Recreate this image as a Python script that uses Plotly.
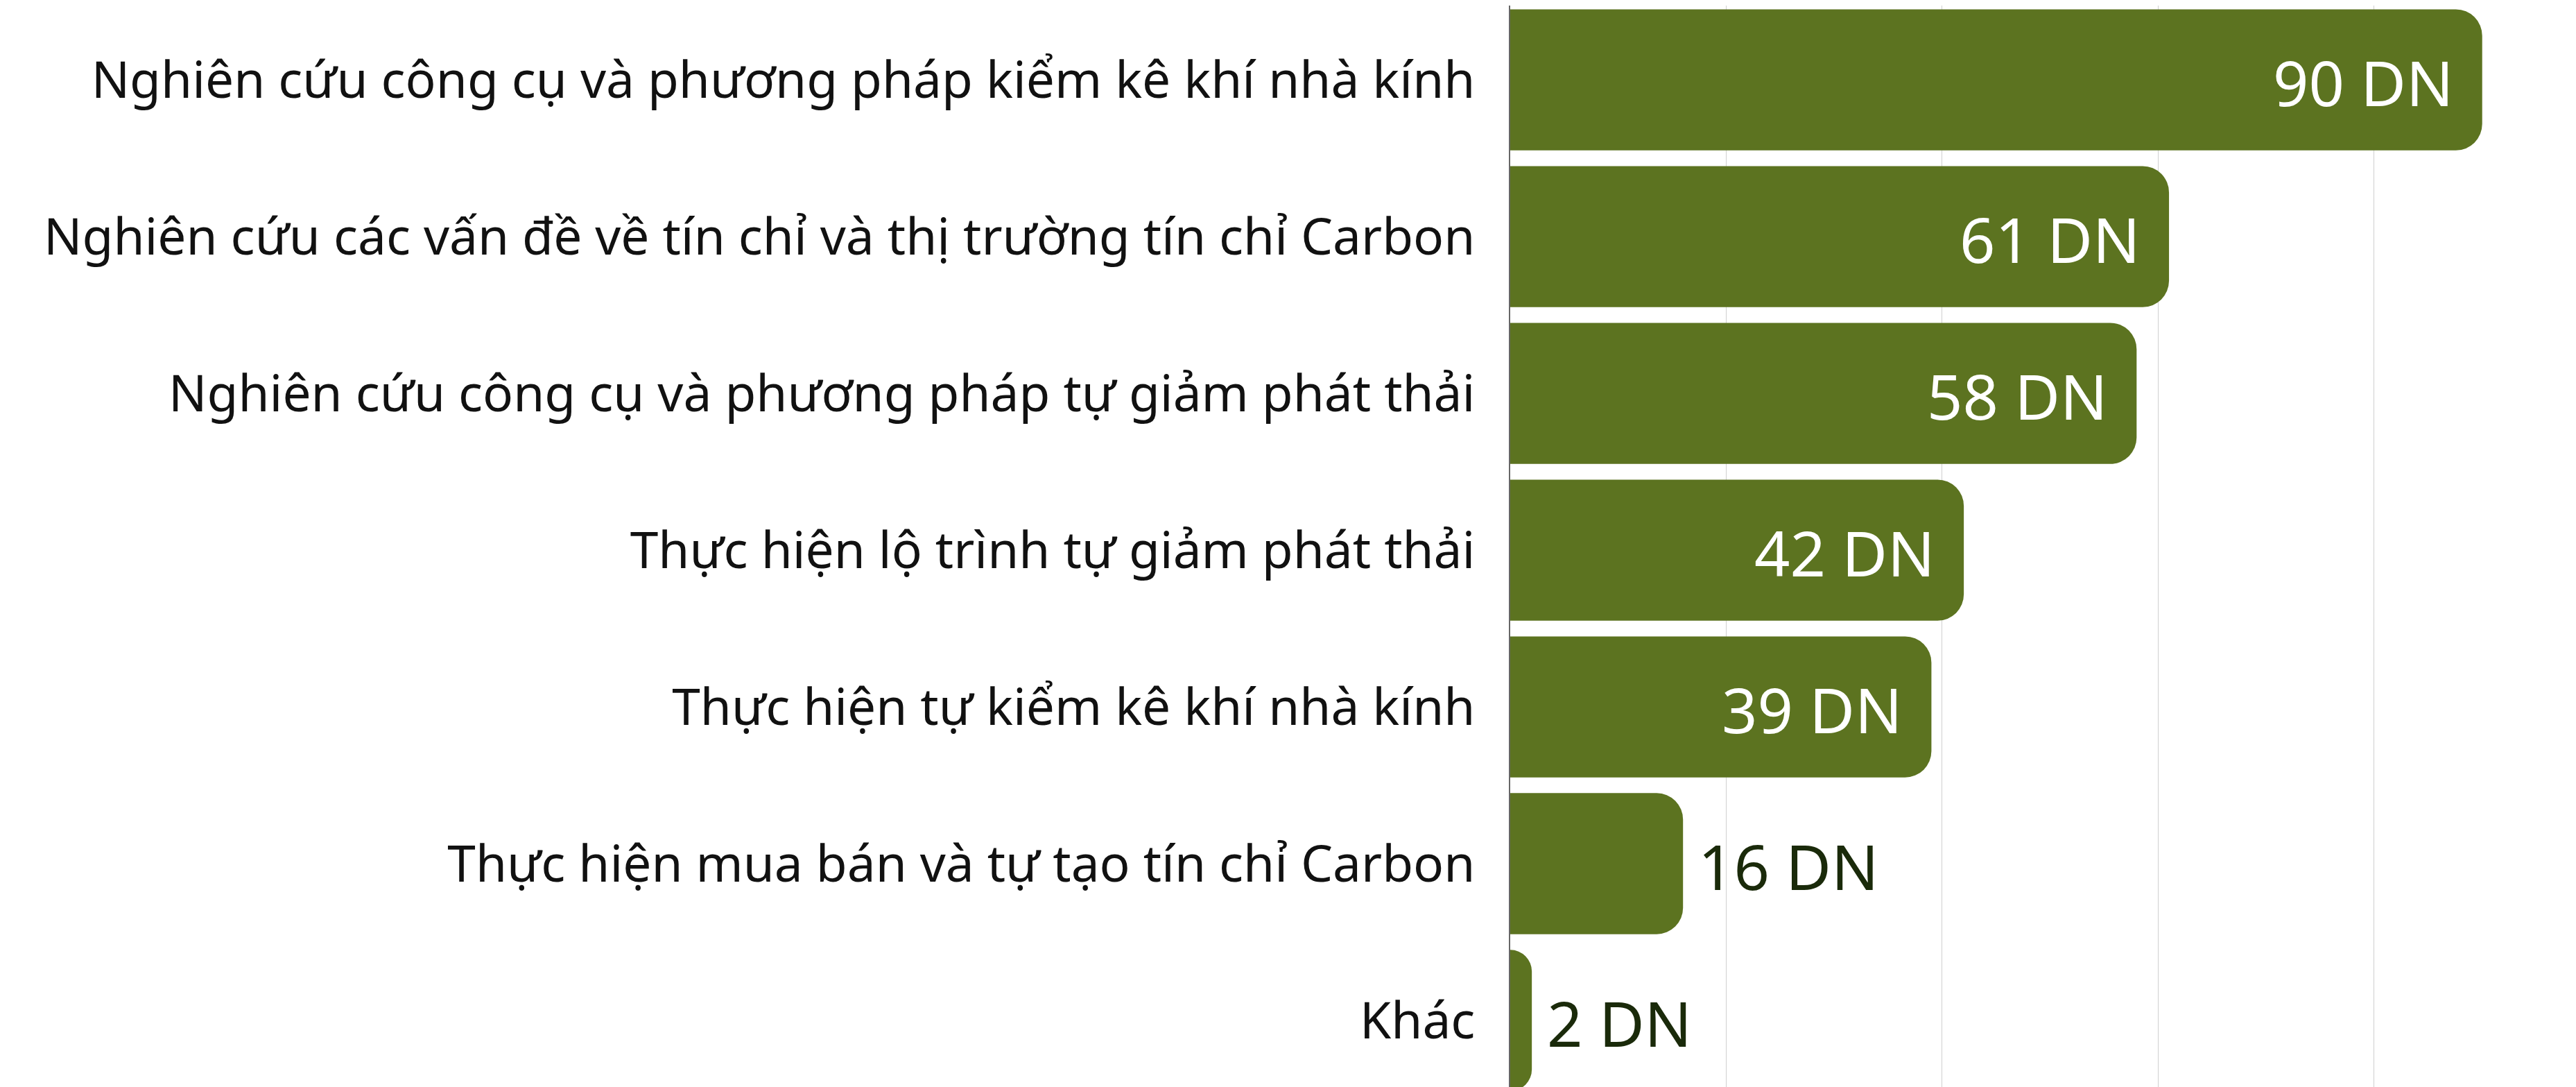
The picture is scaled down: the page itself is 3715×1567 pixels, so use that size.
import plotly.graph_objects as go

categories = [
    "Nghiên cứu công cụ và phương pháp kiểm kê khí nhà kính",
    "Nghiên cứu các vấn đề về tín chỉ và thị trường tín chỉ Carbon",
    "Nghiên cứu công cụ và phương pháp tự giảm phát thải",
    "Thực hiện lộ trình tự giảm phát thải",
    "Thực hiện tự kiểm kê khí nhà kính",
    "Thực hiện mua bán và tự tạo tín chỉ Carbon",
    "Khác",
]
values = [90, 61, 58, 42, 39, 16, 2]
value_labels = [f"{v} DN" for v in values]
inside_threshold = 30

BAR = "#5c7320"
FONT = "Noto Sans"

fig = go.Figure()
fig.add_trace(go.Bar(
    x=values, y=categories, orientation="h",
    marker=dict(color=BAR, line=dict(width=0)),
    hoverinfo="skip",
))

for c, v, t in zip(categories, values, value_labels):
    inside = v >= inside_threshold
    fig.add_annotation(
        x=v, y=c, text=t, showarrow=False,
        xanchor="right" if inside else "left",
        xshift=-40 if inside else 20,
        yshift=-3,
        font=dict(family=FONT, size=90, color="#ffffff" if inside else "#1a2a0a"),
    )

fig.update_layout(
    width=3715, height=1567,
    margin=dict(l=2170, r=0, t=0, b=0),
    paper_bgcolor="white", plot_bgcolor="white",
    bargap=0.1, barcornerradius=38,
    showlegend=False,
    font=dict(family=FONT, color="#111111"),
)
fig.update_xaxes(
    range=[0, 99.2], dtick=20, showticklabels=False,
    showgrid=True, gridcolor="#d0d0d0", gridwidth=1,
    zeroline=False, showline=False,
)
fig.update_yaxes(
    categoryorder="array", categoryarray=categories,
    range=[6.46, -0.474],
    tickfont=dict(family=FONT, size=73, color="#111111"),
    ticks="", ticklabelstandoff=34,
    showgrid=False, showline=True, linecolor="#666666", linewidth=2,
    zeroline=False,
)
fig.write_html("out.html")
